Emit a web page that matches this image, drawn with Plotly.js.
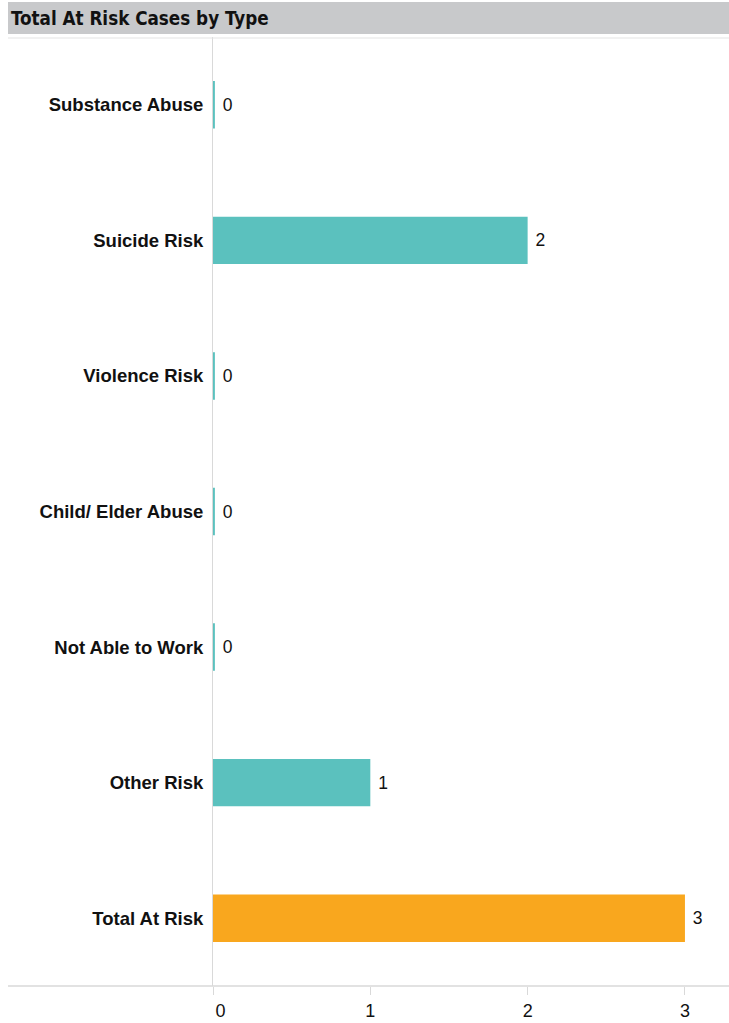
<!DOCTYPE html>
<html>
<head>
<meta charset="utf-8">
<script src="https://cdn.plot.ly/plotly-3.0.1.min.js"></script>
<style>html,body{margin:0;padding:0;background:#fff;}#chart{width:729px;height:1023px;}</style>
</head>
<body>
<div id="chart"></div>
<script>
var categories = ["Substance Abuse", "Suicide Risk", "Violence Risk", "Child/ Elder Abuse", "Not Able to Work", "Other Risk", "Total At Risk"];
var values = [0, 2, 0, 0, 0, 1, 3];
var barColors = ["#5bc1be", "#5bc1be", "#5bc1be", "#5bc1be", "#5bc1be", "#5bc1be", "#f9a71e"];
var xTicks = [0, 1, 2, 3];
var chartTitle = "Total At Risk Cases by Type";

// zero-value bars are drawn as a thin stub, as in the original renderer
var minStub = 0.012;
var drawnValues = values.map(function (v) { return Math.max(v, minStub); });

// the first tick label sits inside the plot edge in the original
var tickLabels = xTicks.map(function (t, i) { return i === 0 ? "&nbsp;&nbsp;&nbsp;" + t : String(t); });

var trace = {
  type: "bar",
  orientation: "h",
  y: categories,
  x: drawnValues,
  marker: {color: barColors, line: {width: 0}},
  width: 0.35,
  text: values.map(String),
  texttemplate: " %{text}",
  textposition: "outside",
  cliponaxis: false,
  textfont: {family: "Liberation Sans, Arial, sans-serif", size: 17.5, color: "#111"},
  hoverinfo: "none"
};

var layout = {
  width: 729,
  height: 1023,
  margin: {l: 213, r: 0, t: 37, b: 37, pad: 0},
  paper_bgcolor: "#ffffff",
  plot_bgcolor: "#ffffff",
  showlegend: false,
  xaxis: {
    range: [0, 3.28],
    tickvals: xTicks,
    ticktext: tickLabels,
    ticks: "outside",
    ticklen: 8,
    tickwidth: 1,
    tickcolor: "#d9d9d9",
    showgrid: false,
    zeroline: false,
    showline: false,
    layer: "below traces",
    tickfont: {family: "Liberation Sans, Arial, sans-serif", size: 18, color: "#111"},
    fixedrange: true
  },
  yaxis: {
    type: "category",
    categoryorder: "array",
    categoryarray: categories,
    autorange: "reversed",
    showgrid: false,
    zeroline: false,
    showline: true,
    linecolor: "#d9d9d9",
    linewidth: 1,
    layer: "below traces",
    ticks: "",
    ticklabelstandoff: 5,
    tickfont: {family: "Liberation Sans, Arial, sans-serif", size: 18.5, color: "#111", weight: "bold"},
    fixedrange: true
  },
  shapes: [
    {type: "rect", xref: "paper", yref: "paper", x0: -205/516, x1: 1, y0: (1023-37-34)/949, y1: (1023-37-2)/949,
     fillcolor: "#c8c9cb", line: {width: 0}, layer: "below"},
    {type: "line", xref: "paper", yref: "paper", x0: -205/516, x1: 1, y0: (1023-37-38)/949, y1: (1023-37-38)/949,
     line: {color: "#e3e3e3", width: 1}},
    {type: "line", xref: "paper", yref: "paper", x0: -205/516, x1: 1, y0: 0, y1: 0,
     line: {color: "#d9d9d9", width: 1.5}}
  ],
  annotations: [
    {xref: "paper", yref: "paper", x: -204/516, y: (1023-37-18)/949, xanchor: "left", yanchor: "middle",
     text: "<b>" + chartTitle + "</b>", showarrow: false,
     font: {family: "DejaVu Sans Condensed, DejaVu Sans, sans-serif", size: 18.7, color: "#111"}}
  ]
};

Plotly.newPlot("chart", [trace], layout, {displayModeBar: false, staticPlot: true});
</script>
</body>
</html>
